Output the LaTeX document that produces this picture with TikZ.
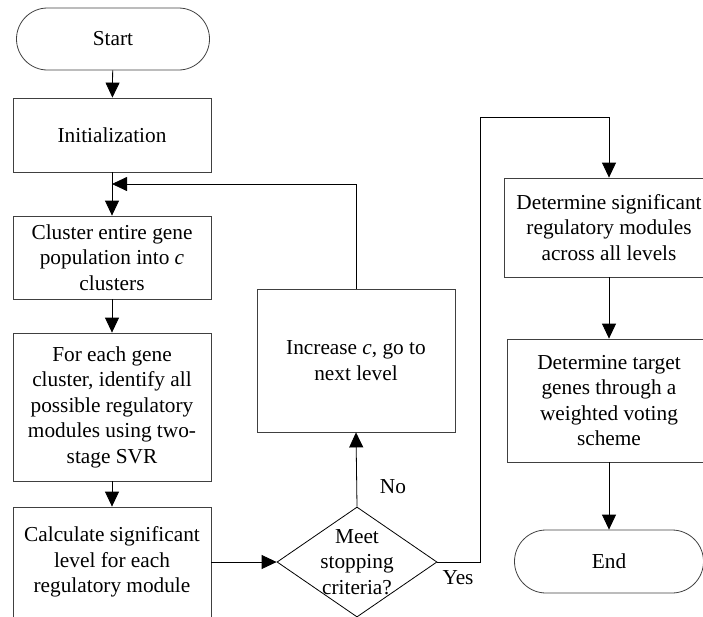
\documentclass[tikz,border=0pt]{standalone}
\usepackage{fontspec}
\setmainfont{Liberation Serif}
\usetikzlibrary{arrows.meta,shapes.geometric,shapes.misc}
\begin{document}
\begin{tikzpicture}[x=1pt,y=-1pt,
  every node/.style={font=\fontsize{21.3}{25.5}\selectfont, align=center, inner sep=0pt},
  procbox/.style={draw=black!75, line width=0.8pt, rectangle},
  termbox/.style={draw=black!75, line width=0.8pt, rounded rectangle},
  decbox/.style={draw=black, line width=0.8pt, diamond, minimum width=160pt, minimum height=110pt},
  arr/.style={draw=black, line width=0.8pt, -{Triangle[length=15pt,width=14pt]}},
  link/.style={draw=black, line width=0.8pt}]
\useasboundingbox (0,0) rectangle (703,616);

% left column
\node[termbox, minimum width=193pt, minimum height=62pt] (start) at (113,39) {Start};
\node[procbox, minimum width=198pt, minimum height=74pt] (init) at (112,135) {Initialization};
\node[procbox, minimum width=198pt, minimum height=83pt] (clus) at (112,257.5)
  {Cluster entire gene\\population into \textit{c}\\clusters};
\node[procbox, minimum width=198pt, minimum height=148pt] (each) at (112,407)
  {For each gene\\cluster, identify all\\possible regulatory\\modules using two-\\stage SVR};
\node[procbox, minimum width=198pt, minimum height=110pt] (calc) at (112,562)
  {Calculate significant\\level for each\\regulatory module};

% decision and loop
\node[decbox] (dia) at (357,562) {};
\node (diatext) at (357,562) {Meet\\stopping\\criteria?};
\node[procbox, minimum width=198pt, minimum height=143pt] (incr) at (356,360.5)
  {Increase \textit{c}, go to\\next level};

% right column
\node[procbox, minimum width=210pt, minimum height=99pt] (det) at (609,227.5)
  {Determine significant\\regulatory modules\\across all levels};
\node[procbox, minimum width=204pt, minimum height=123pt] (targ) at (609,400.5)
  {Determine target\\genes through a\\weighted voting\\scheme};
\node[termbox, minimum width=189pt, minimum height=63pt] (end) at (609,561.5) {End};

% connectors
\draw[arr] (start) -- (init);
\draw[arr] (init) -- (clus);
\draw[arr] (clus) -- (each);
\draw[arr] (each) -- (calc);
\draw[arr] (calc.east) -- (dia.west);
\draw[arr] (dia.north) -- (incr.south);
\node (no) at (393,487) {No};

\coordinate (fb) at (112,184);
\draw[arr] (incr.north) |- (fb);

\coordinate (yesturn) at (480,117);
\draw[arr] (dia.east) -| (yesturn) -| (det.north);
\node (yes) at (458,578) {Yes};

\draw[arr] (det) -- (targ);
\draw[arr] (targ) -- (end);
\end{tikzpicture}
\end{document}
